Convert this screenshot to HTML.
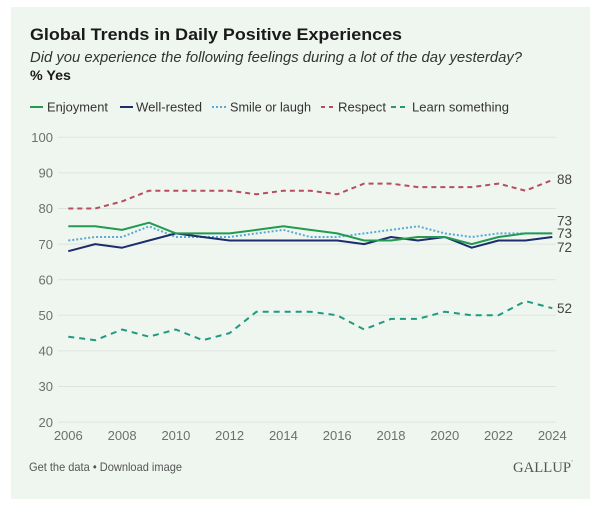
<!DOCTYPE html>
<html><head><meta charset="utf-8"><style>
html,body{margin:0;padding:0;background:#fff;}
svg{display:block;}
text{font-family:"Liberation Sans",Arial,sans-serif;}
</style></head><body>
<svg width="600" height="512" viewBox="0 0 600 512" xmlns="http://www.w3.org/2000/svg">
<rect x="0" y="0" width="600" height="512" fill="#ffffff"/>
<rect x="11" y="7" width="579" height="492" fill="#eff6f0"/>

<text x="30" y="40" font-size="17" font-weight="bold" fill="#1a1a1a" textLength="372" lengthAdjust="spacingAndGlyphs">Global Trends in Daily Positive Experiences</text>
<text x="30" y="62" font-size="14.5" font-style="italic" fill="#333" textLength="492" lengthAdjust="spacingAndGlyphs">Did you experience the following feelings during a lot of the day yesterday?</text>
<text x="30" y="80" font-size="14" font-weight="bold" fill="#1a1a1a" textLength="41" lengthAdjust="spacingAndGlyphs">% Yes</text>

<!-- legend -->
<g font-size="13" fill="#333">
<line x1="30" y1="107" x2="43" y2="107" stroke="#239a50" stroke-width="2"/>
<text x="47" y="111.5" textLength="61" lengthAdjust="spacingAndGlyphs">Enjoyment</text>
<line x1="120" y1="107" x2="133" y2="107" stroke="#1b2d6b" stroke-width="2"/>
<text x="136" y="111.5" textLength="66" lengthAdjust="spacingAndGlyphs">Well-rested</text>
<line x1="212" y1="107" x2="228" y2="107" stroke="#5aa8d8" stroke-width="2" stroke-dasharray="2,2"/>
<text x="230" y="111.5" textLength="81" lengthAdjust="spacingAndGlyphs">Smile or laugh</text>
<line x1="321" y1="107" x2="336" y2="107" stroke="#b84d5e" stroke-width="2" stroke-dasharray="4,4"/>
<text x="338" y="111.5" textLength="48" lengthAdjust="spacingAndGlyphs">Respect</text>
<line x1="391" y1="107" x2="409" y2="107" stroke="#1f9a80" stroke-width="2" stroke-dasharray="5,4"/>
<text x="412" y="111.5" textLength="97" lengthAdjust="spacingAndGlyphs">Learn something</text>
</g>

<!-- grid -->
<g stroke="#dde4de" stroke-width="1">
<line x1="58" y1="137.3" x2="556" y2="137.3"/>
<line x1="58" y1="172.9" x2="556" y2="172.9"/>
<line x1="58" y1="208.5" x2="556" y2="208.5"/>
<line x1="58" y1="244.1" x2="556" y2="244.1"/>
<line x1="58" y1="279.7" x2="556" y2="279.7"/>
<line x1="58" y1="315.3" x2="556" y2="315.3"/>
<line x1="58" y1="350.9" x2="556" y2="350.9"/>
<line x1="58" y1="386.5" x2="556" y2="386.5"/>
<line x1="58" y1="422.1" x2="556" y2="422.1"/>
</g>
<g font-size="13" fill="#6e6e6e" text-anchor="end">
<text x="53" y="142">100</text>
<text x="53" y="177.6">90</text>
<text x="53" y="213.2">80</text>
<text x="53" y="248.8">70</text>
<text x="53" y="284.4">60</text>
<text x="53" y="320">50</text>
<text x="53" y="355.6">40</text>
<text x="53" y="391.2">30</text>
<text x="53" y="426.8">20</text>
</g>
<g font-size="13" fill="#6e6e6e" text-anchor="middle">
<text x="68.3" y="440">2006</text>
<text x="122.1" y="440">2008</text>
<text x="175.9" y="440">2010</text>
<text x="229.6" y="440">2012</text>
<text x="283.4" y="440">2014</text>
<text x="337.2" y="440">2016</text>
<text x="391.0" y="440">2018</text>
<text x="444.8" y="440">2020</text>
<text x="498.5" y="440">2022</text>
<text x="552.3" y="440">2024</text>
</g>

<!-- series -->
<g fill="none" stroke-width="2" stroke-linejoin="round">
<polyline stroke="#1f9a80" stroke-dasharray="6,5" points="68.3,336.7 95.2,340.2 122.1,329.5 149.0,336.7 175.9,329.5 202.8,340.2 229.6,333.1 256.5,311.7 283.4,311.7 310.3,311.7 337.2,315.3 364.1,329.5 391.0,318.9 417.9,318.9 444.8,311.7 471.7,315.3 498.5,315.3 525.4,301.1 552.3,308.2"/>
<polyline stroke="#b84d5e" stroke-dasharray="5,4" points="68.3,208.5 95.2,208.5 122.1,201.4 149.0,190.7 175.9,190.7 202.8,190.7 229.6,190.7 256.5,194.3 283.4,190.7 310.3,190.7 337.2,194.3 364.1,183.6 391.0,183.6 417.9,187.1 444.8,187.1 471.7,187.1 498.5,183.6 525.4,190.7 552.3,180.0"/>
<polyline stroke="#5aa8d8" stroke-dasharray="2,2" points="68.3,240.5 95.2,237.0 122.1,237.0 149.0,226.3 175.9,237.0 202.8,237.0 229.6,237.0 256.5,233.4 283.4,229.9 310.3,237.0 337.2,237.0 364.1,233.4 391.0,229.9 417.9,226.3 444.8,233.4 471.7,237.0 498.5,233.4 525.4,233.4 552.3,233.4"/>
<polyline stroke="#1b2d6b" points="68.3,251.2 95.2,244.1 122.1,247.7 149.0,240.5 175.9,233.4 202.8,237.0 229.6,240.5 256.5,240.5 283.4,240.5 310.3,240.5 337.2,240.5 364.1,244.1 391.0,237.0 417.9,240.5 444.8,237.0 471.7,247.7 498.5,240.5 525.4,240.5 552.3,237.0"/>
<polyline stroke="#239a50" points="68.3,226.3 95.2,226.3 122.1,229.9 149.0,222.7 175.9,233.4 202.8,233.4 229.6,233.4 256.5,229.9 283.4,226.3 310.3,229.9 337.2,233.4 364.1,240.5 391.0,240.5 417.9,237.0 444.8,237.0 471.7,244.1 498.5,237.0 525.4,233.4 552.3,233.4"/>
</g>

<g font-size="13.5" fill="#444">
<text x="557" y="184">88</text>
<text x="557" y="225.5">73</text>
<text x="557" y="238">73</text>
<text x="557" y="252">72</text>
<text x="557" y="313">52</text>
</g>

<text x="29" y="471" font-size="12" fill="#555" textLength="153" lengthAdjust="spacingAndGlyphs">Get the data • Download image</text>
<text x="513" y="472" style="font-family:'Liberation Serif',serif;" font-size="15" fill="#555" textLength="58" lengthAdjust="spacingAndGlyphs">GALLUP</text>
<text x="571" y="464" style="font-family:'Liberation Serif',serif;" font-size="6" fill="#555">’</text>
</svg>
</body></html>
